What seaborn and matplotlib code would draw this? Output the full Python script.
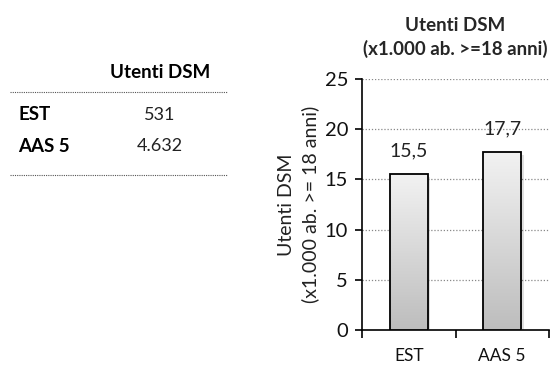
import numpy as np
import pandas as pd
import matplotlib
matplotlib.use("Agg")
import matplotlib.pyplot as plt
import seaborn as sns

# Users of mental health services (DSM), absolute counts and rate per 1,000 adults
areas = ["EST", "AAS 5"]
users_count = ["531", "4.632"]
users_rate = [15.5, 17.7]
rate_labels = ["15,5", "17,7"]
y_ticks = [0, 5, 10, 15, 20, 25]

sns.set_theme(style="white")
plt.rcParams["font.family"] = ["Lato", "DejaVu Sans"]

fig = plt.figure(figsize=(5.55, 3.65), dpi=100)
fig.patch.set_facecolor("white")

# ---- small table on the left ----
fig.text(160 / 555, 1 - 73 / 365, "Utenti DSM", ha="center", va="center",
         fontsize=13.5, fontweight="bold", color="#000000")
for yy in (92, 175):
    fig.add_artist(plt.Line2D([10 / 555, 227 / 555], [1 - yy / 365] * 2,
                              transform=fig.transFigure, color="#555555",
                              lw=0.8, ls=(0, (1, 1))))
for i, (name, cnt) in enumerate(zip(areas, users_count)):
    yy = 1 - (115 + 31 * i) / 365
    fig.text(18 / 555, yy, name, ha="left", va="center",
             fontsize=13.5, fontweight="bold", color="#000000")
    fig.text(160 / 555, yy, cnt, ha="center", va="center",
             fontsize=13, color="#222222")

# ---- bar chart on the right ----
ax = fig.add_axes([362 / 555, 1 - 330 / 365, 187 / 555, 251 / 365])
df = pd.DataFrame({"area": areas, "rate": users_rate})
sns.barplot(data=df, x="area", y="rate", ax=ax, width=0.41,
            color="#dddddd", edgecolor="black", linewidth=1.3, zorder=3)

ax.set_ylim(0, 25)
ax.set_xlim(-0.5, 1.5)
ax.set_yticks(y_ticks)
ax.set_yticklabels([str(t) for t in y_ticks], fontsize=14.5, color="#111111")

# gradient fill and soft shadow on every bar
grad = np.linspace(0, 1, 256).reshape(-1, 1)
cmap = matplotlib.colors.LinearSegmentedColormap.from_list(
    "bar", ["#bdbdbd", "#f2f2f2"])
for patch in ax.patches:
    x0, y0 = patch.get_x(), patch.get_y()
    w, h = patch.get_width(), patch.get_height()
    shadow = matplotlib.patches.Rectangle((x0 + 0.025, y0), w, h - 0.3,
                                          facecolor="#000000", alpha=0.12,
                                          edgecolor="none", zorder=2)
    ax.add_patch(shadow)
    im = ax.imshow(grad, cmap=cmap, aspect="auto", origin="lower",
                   extent=[x0, x0 + w, y0, y0 + h], zorder=3.5)
    im.set_clip_path(patch)
    patch.set_facecolor("none")
    patch.set_zorder(4)

ax.set_xlim(-0.5, 1.5)
ax.set_ylim(0, 25)

# value labels
for i, (v, lab) in enumerate(zip(users_rate, rate_labels)):
    ax.annotate(lab, (i, v), xytext=(0, 11), textcoords="offset points",
                ha="center", va="bottom", fontsize=14, color="#222222",
                zorder=5)

# gridlines
for t in y_ticks[1:]:
    ax.axhline(t, color="#888888", lw=0.9, ls=(0, (1, 1.5)), zorder=1)

# x ticks at category boundaries, labels under categories
ax.set_xticks([0, 1])
ax.set_xticklabels(areas, fontsize=12.5, color="#111111")
ax.set_xticks([-0.5, 0.5, 1.5], minor=True)
ax.tick_params(axis="x", which="major", length=0, pad=13)
ax.tick_params(axis="x", which="minor", length=6, width=1.2, color="black",
               direction="out", bottom=True)
ax.tick_params(axis="y", length=5, width=1.2, color="black", direction="out",
               left=True, pad=5)

for side in ("top", "right"):
    ax.spines[side].set_visible(False)
for side in ("left", "bottom"):
    ax.spines[side].set_color("black")
    ax.spines[side].set_linewidth(1.2)

ax.set_xlabel("")
ax.set_ylabel("Utenti DSM\n(x1.000 ab. >= 18 anni)", fontsize=14,
              color="#222222", linespacing=1.4, labelpad=4)
ax.set_title("Utenti DSM\n(x1.000 ab. >=18 anni)", fontsize=13.5,
             fontweight="bold", linespacing=1.4, pad=17)

fig.savefig("out.png", dpi=100, facecolor="white")
